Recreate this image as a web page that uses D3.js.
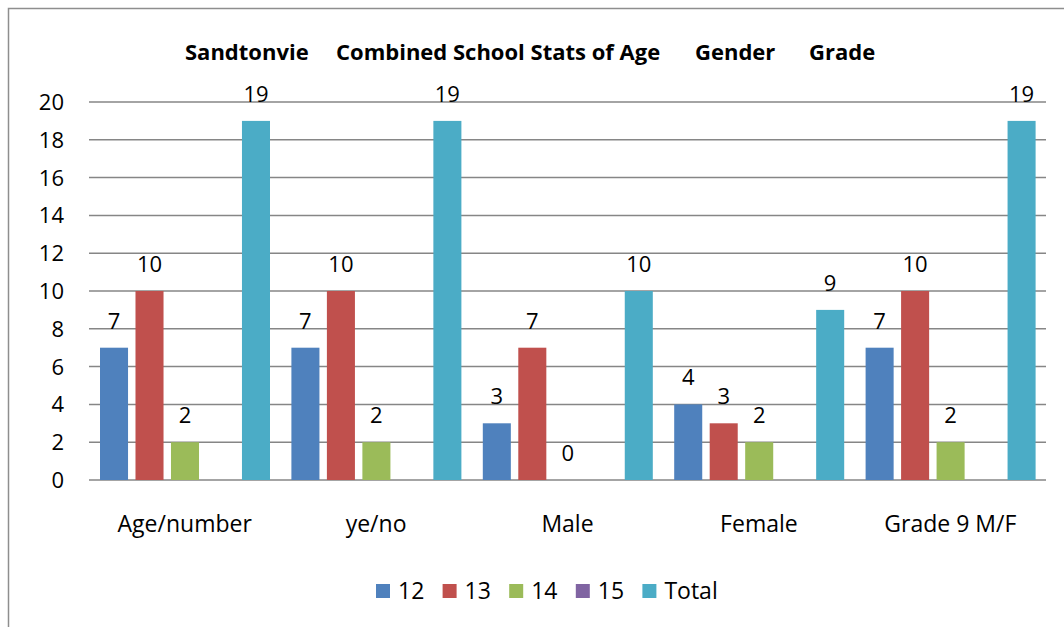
<!DOCTYPE html>
<html>
<head>
<meta charset="utf-8">
<script src="https://cdn.jsdelivr.net/npm/d3@7"></script>
<style>
  html, body { margin: 0; padding: 0; background: #fff; }
  svg { display: block; font-family: "Open Sans", sans-serif; }
</style>
</head>
<body>
<div id="chart"></div>
<script>
const categories = ["Age/number", "ye/no", "Male", "Female", "Grade 9 M/F"];
const seriesNames = ["12", "13", "14", "15", "Total"];
const v12 = [7, 7, 3, 4, 7];
const v13 = [10, 10, 7, 3, 10];
const v14 = [2, 2, 0, 2, 2];
const v15 = [null, null, null, null, null];
const vTotal = [19, 19, 10, 9, 19];
const yTicks = [0, 2, 4, 6, 8, 10, 12, 14, 16, 18, 20];
const titleParts = ["Sandtonvie", "Combined School Stats of Age", "Gender", "Grade"];

const colors = ["#4f81bd", "#c0504d", "#9bbb59", "#8064a2", "#4bacc6"];
const seriesValues = [v12, v13, v14, v15, vTotal];

const width = 1064, height = 627;
const svg = d3.select("#chart").append("svg")
  .attr("width", width).attr("height", height);

// outer frame (right/bottom edges run off the picture)
svg.append("rect")
  .attr("x", 8.5).attr("y", 8.5)
  .attr("width", 1200).attr("height", 800)
  .attr("fill", "none").attr("stroke", "#8e8e8e").attr("stroke-width", 1.5);

// title, pieces placed like the original spacing
const titleX = [185, 336, 695, 809];
svg.append("text")
  .attr("y", 60)
  .attr("font-weight", "bold")
  .attr("font-size", 22)
  .attr("fill", "#000")
  .selectAll("tspan")
  .data(titleParts)
  .enter()
  .append("tspan")
  .attr("x", (d, i) => titleX[i])
  .text(d => d);

const x0 = d3.scaleBand()
  .domain(categories)
  .range([89, 1046])
  .padding(0);

const x1 = d3.scaleBand()
  .domain(seriesNames)
  .range([11, 181])
  .paddingInner(0.21)
  .paddingOuter(0);

const y = d3.scaleLinear()
  .domain([0, 20])
  .range([480, 102]);

// gridlines
svg.append("g")
  .selectAll("line")
  .data(yTicks)
  .enter()
  .append("line")
  .attr("x1", 89).attr("x2", 1046)
  .attr("y1", d => y(d)).attr("y2", d => y(d))
  .attr("stroke", "#868686").attr("stroke-width", 1.5);

// y tick labels
svg.append("g")
  .selectAll("text")
  .data(yTicks)
  .enter()
  .append("text")
  .attr("x", 64)
  .attr("y", d => y(d))
  .attr("dy", "0.36em")
  .attr("text-anchor", "end")
  .attr("font-size", 22)
  .attr("fill", "#000")
  .text(d => d);

// bars
const groups = svg.append("g")
  .selectAll("g")
  .data(categories)
  .enter()
  .append("g")
  .attr("transform", d => `translate(${x0(d)},0)`);

const cells = (c, ci) => seriesNames.map((s, si) => ({ s, si, v: seriesValues[si][ci] }))
  .filter(d => d.v !== null);

groups.selectAll("rect")
  .data((c, ci) => cells(c, ci))
  .enter()
  .append("rect")
  .attr("x", d => x1(d.s))
  .attr("y", d => y(d.v))
  .attr("width", x1.bandwidth())
  .attr("height", d => y(0) - y(d.v))
  .attr("fill", d => colors[d.si]);

groups.selectAll("text")
  .data((c, ci) => cells(c, ci))
  .enter()
  .append("text")
  .attr("x", d => x1(d.s) + x1.bandwidth() / 2)
  .attr("y", d => y(d.v) - 19)
  .attr("text-anchor", "middle")
  .attr("font-size", 22)
  .attr("fill", "#000")
  .text(d => d.v);

// category labels
svg.append("g")
  .selectAll("text")
  .data(categories)
  .enter()
  .append("text")
  .attr("x", d => x0(d) + x0.bandwidth() / 2)
  .attr("y", 532)
  .attr("text-anchor", "middle")
  .attr("font-size", 23)
  .attr("fill", "#000")
  .text(d => d);

// legend
const legend = svg.append("g")
  .selectAll("g")
  .data(seriesNames)
  .enter()
  .append("g")
  .attr("transform", (d, i) => `translate(${376 + i * 66.6},584)`);

legend.append("rect")
  .attr("width", 14).attr("height", 14)
  .attr("fill", (d, i) => colors[i]);

legend.append("text")
  .attr("x", 22)
  .attr("y", 14.5)
  .attr("font-size", 23)
  .attr("fill", "#000")
  .text(d => d);
</script>
</body>
</html>
